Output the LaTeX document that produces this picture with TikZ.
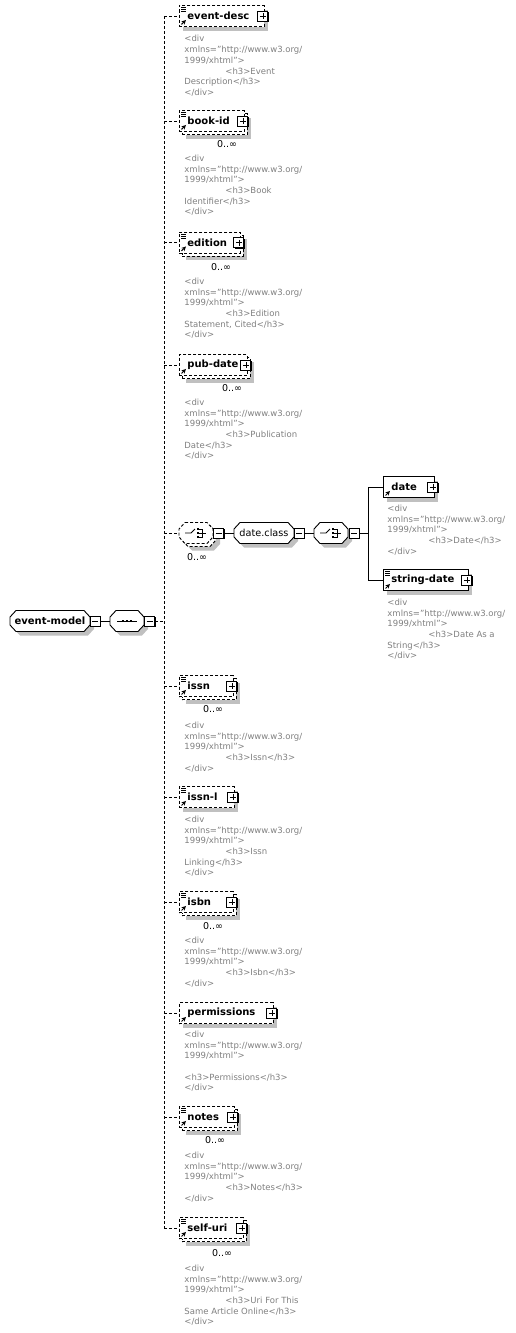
\documentclass[tikz,border=0pt]{standalone}
\usepackage{fontspec}
\setmainfont{DejaVu Sans}
\usetikzlibrary{arrows, positioning, shadows}
\definecolor{docgray}{RGB}{128,128,128}
\definecolor{shadegray}{RGB}{192,192,192}

\newcommand{\labelfont}{\fontsize{10}{12}\selectfont\bfseries}
\newcommand{\classfont}{\fontsize{9.7}{12}\selectfont}
\newcommand{\docfont}{\fontsize{8.5}{10.7}\selectfont}
\newcommand{\multfont}{\fontsize{9.5}{11}\selectfont}
\newcommand{\hind}{\hspace*{41pt}}
\newcommand{\divhead}{<div\\xmlns="http://www.w3.org/\\1999/xhtml">\\}

% element box: name, x, y, width, label, box style
\newcommand{\element}[6]{%
  \node [#6, minimum width=#4] (#1) at (#2,#3) {};
  \node [elemlabel] (#1-label) at ([xshift=8pt]#1.west) {#5};
  \node [plusbox] (#1-plus) at ([xshift=-2pt]#1.east) {};
  \draw [->, line width=1pt] ([xshift=2.5pt, yshift=2.5pt]#1.south west) -- ++(4.5,-4.5);
}
% second box behind an element that may repeat
\newcommand{\backbox}[4]{\node [optbox, shadowed, minimum width=#4] (#1) at ({#2+3},{#3+3}) {};}
% documentation mark
\newcommand{\noteicon}[1]{%
  \foreach \k in {2.5,4.5,6.5}
    \draw [line width=0.7pt] ([xshift=2pt, yshift=-\k]#1.north west) -- ++(5,0);
}
% octagon: name, x, y, width, path style, text
\newcommand{\octagon}[6]{%
  \path [#5] ({#2-#4/2+6},{#3-10.5}) -- ({#2+#4/2-6},{#3-10.5}) -- ({#2+#4/2},{#3-4}) -- ({#2+#4/2},{#3+4})
    -- ({#2+#4/2-6},{#3+10.5}) -- ({#2-#4/2+6},{#3+10.5}) -- ({#2-#4/2},{#3+4}) -- ({#2-#4/2},{#3-4}) -- cycle;
  \node [inner sep=0pt, minimum width=#4, minimum height=21pt] (#1) at (#2,#3) {#6};
}

\begin{document}
\begin{tikzpicture}[x=1pt, y=-1pt, >=stealth, line width=0.9pt]
    % Styles
    \tikzstyle{dashline} = [dash pattern=on 3pt off 2pt]
    \tikzstyle{shadowed} = [drop shadow={shadow xshift=4pt, shadow yshift=-4pt, fill=shadegray, opacity=1}]
    \tikzstyle{box} = [rectangle, draw, fill=white, minimum height=21pt, inner sep=0pt, anchor=west]
    \tikzstyle{optbox} = [box, dashline]
    \tikzstyle{octbox} = [draw, fill=white]
    \tikzstyle{elemlabel} = [anchor=west, inner sep=0pt, font=\labelfont]
    \tikzstyle{doc} = [anchor=north west, align=left, inner sep=0pt, text=docgray, font=\docfont]
    \tikzstyle{mult} = [inner sep=0pt, font=\multfont]
    \tikzstyle{plusbox} = [rectangle, draw, solid, fill=white, line width=0.9pt, minimum size=10pt, inner sep=0pt,
        drop shadow={shadow xshift=1pt, shadow yshift=-1pt, fill=black, opacity=1},
        path picture={\draw [line width=0.8pt] ([xshift=2pt]path picture bounding box.west) -- ([xshift=-2pt]path picture bounding box.east);
                      \draw [line width=0.8pt] ([yshift=-2pt]path picture bounding box.north) -- ([yshift=2pt]path picture bounding box.south);}]
    \tikzstyle{minusbox} = [rectangle, draw, solid, fill=white, line width=0.9pt, minimum size=10pt, inner sep=0pt,
        drop shadow={shadow xshift=1pt, shadow yshift=-1pt, fill=black, opacity=1},
        path picture={\draw [line width=0.8pt] ([xshift=2pt]path picture bounding box.west) -- ([xshift=-2pt]path picture bounding box.east);}]
    \tikzset{
      choiceicon/.pic={
        \draw (-11,0) -- (-5,0) -- (-1,-4);
        \foreach \d in {-4,0,4} \fill (0.5,{\d-1.1}) rectangle ++(2.2,2.2);
        \draw (2.7,-4) -- (6,-4) -- (6,4) -- (2.7,4);
        \draw (2.7,0) -- (10,0);
      },
      seqicon/.pic={
        \draw (-10,0) -- (10,0);
        \foreach \d in {-4,0,4} \fill ({\d-1.3},-1.3) rectangle ++(2.6,2.6);
      }
    }

    \path [use as bounding box, fill=white] (0,0) rectangle (516,1333);
    \coordinate (trunk) at (164,0);

    % Root and sequence
    \octagon{eventmodel}{50}{621}{80}{octbox, shadowed}{\labelfont event-model}
    \node [minusbox] (eventmodel-minus) at (95,621) {};
    \octagon{seq}{127}{621}{34}{octbox, shadowed}{}
    \pic at (seq) {seqicon};
    \node [minusbox] (seq-minus) at (149.5,621) {};

    % Elements
    \element{eventdesc}{179}{16}{85}{event-desc}{optbox, shadowed}
    \noteicon{eventdesc}
    \backbox{bookid-back}{179}{121}{65}
    \element{bookid}{179}{121}{65}{book-id}{optbox}
    \noteicon{bookid}
    \backbox{edition-back}{179}{242.5}{61}
    \element{edition}{179}{242.5}{61}{edition}{optbox}
    \noteicon{edition}
    \backbox{pubdate-back}{179}{365}{68}
    \element{pubdate}{179}{365}{68}{pub-date}{optbox}
    \backbox{issn-back}{179}{686}{54}
    \element{issn}{179}{686}{54}{issn}{optbox}
    \noteicon{issn}
    \element{issnl}{179}{797}{55}{issn-l}{optbox, shadowed}
    \noteicon{issnl}
    \backbox{isbn-back}{179}{902}{54}
    \element{isbn}{179}{902}{54}{isbn}{optbox}
    \noteicon{isbn}
    \element{permissions}{179}{1013}{94}{permissions}{optbox, shadowed}
    \backbox{notes-back}{179}{1117}{55}
    \element{notes}{179}{1117}{55}{notes}{optbox}
    \noteicon{notes}
    \backbox{selfuri-back}{179}{1228}{64}
    \element{selfuri}{179}{1228}{64}{self-uri}{optbox}
    \noteicon{selfuri}

    % date.class group
    \octagon{choiceA-back}{199}{536}{34}{octbox, dashline, shadowed}{}
    \octagon{choiceA}{196}{533}{34}{octbox, dashline}{}
    \pic at (choiceA) {choiceicon};
    \node [minusbox] (choiceA-minus) at (218.5,533) {};
    \octagon{dateclass}{264}{533}{60}{octbox, shadowed}{\classfont date.class}
    \node [minusbox] (dateclass-minus) at (299,533) {};
    \octagon{choiceB}{331}{533}{34}{octbox, shadowed}{}
    \pic at (choiceB) {choiceicon};
    \node [minusbox] (choiceB-minus) at (354,533) {};
    \coordinate (branch) at (368,533);
    \element{date}{383}{487}{51}{date}{box, shadowed}
    \element{stringdate}{383}{580}{85}{string-date}{box, shadowed}
    \noteicon{stringdate}

    % Multiplicities
    \node [mult] (bookid-mult) at (227,144) {0..∞};
    \node [mult] (edition-mult) at (221,267) {0..∞};
    \node [mult] (pubdate-mult) at (232,388) {0..∞};
    \node [mult] (choiceA-mult) at (197,557) {0..∞};
    \node [mult] (issn-mult) at (213,709) {0..∞};
    \node [mult] (isbn-mult) at (213,926) {0..∞};
    \node [mult] (notes-mult) at (215,1140) {0..∞};
    \node [mult] (selfuri-mult) at (222,1253) {0..∞};

    % Documentation
    \node [doc] (eventdesc-doc) at (184,35) {\divhead\hind<h3>Event\\Description</h3>\\</div>};
    \node [doc] (bookid-doc) at (184,154.5) {\divhead\hind<h3>Book\\Identifier</h3>\\</div>};
    \node [doc] (edition-doc) at (184,277.5) {\divhead\hind<h3>Edition\\Statement, Cited</h3>\\</div>};
    \node [doc] (pubdate-doc) at (184,398.5) {\divhead\hind<h3>Publication\\Date</h3>\\</div>};
    \node [doc] (date-doc) at (387,504.5) {\divhead\hind<h3>Date</h3>\\</div>};
    \node [doc] (stringdate-doc) at (387,598.5) {\divhead\hind<h3>Date As a\\String</h3>\\</div>};
    \node [doc] (issn-doc) at (184,721.5) {\divhead\hind<h3>Issn</h3>\\</div>};
    \node [doc] (issnl-doc) at (184,815.5) {\divhead\hind<h3>Issn\\Linking</h3>\\</div>};
    \node [doc] (isbn-doc) at (184,936.5) {\divhead\hind<h3>Isbn</h3>\\</div>};
    \node [doc] (permissions-doc) at (184,1030.5) {\divhead\mbox{}\\<h3>Permissions</h3>\\</div>};
    \node [doc] (notes-doc) at (184,1151.5) {\divhead\hind<h3>Notes</h3>\\</div>};
    \node [doc] (selfuri-doc) at (184,1264.5) {\divhead\hind<h3>Uri For This\\Same Article Online</h3>\\</div>};

    % Connectors
    \draw [dashline] (trunk |- eventdesc.west) -- (trunk |- selfuri.west);
    \foreach \e in {eventdesc, bookid, edition, pubdate, choiceA, issn, issnl, isbn, permissions, notes, selfuri}
        \draw [dashline] (trunk |- \e.west) -- (\e.west);
    \draw (eventmodel-minus) -- (seq);
    \draw [dashline] (seq-minus) -- (trunk |- seq-minus);
    \draw (choiceA-minus) -- (dateclass);
    \draw (dateclass-minus) -- (choiceB);
    \draw (choiceB-minus) -- (branch);
    \draw (date.west) -- (date.west -| branch) -- (stringdate.west -| branch) -- (stringdate.west);
\end{tikzpicture}
\end{document}
